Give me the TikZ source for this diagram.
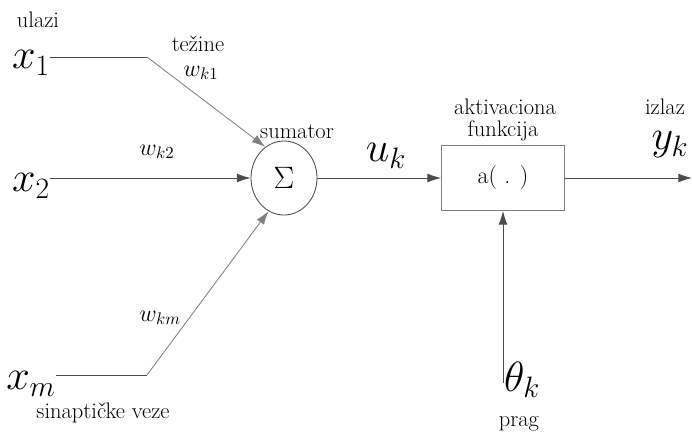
\RequirePackage{fix-cm}
\documentclass[tikz,border=0pt]{standalone}
\usepackage{fontspec}
\usetikzlibrary{arrows.meta,shapes.geometric}

\begin{document}
\begin{tikzpicture}[x=0.025cm, y=-0.025cm, >={Latex[length=3.4mm,width=2.2mm]},
    lab/.style={font=\fontsize{16}{18}\selectfont, inner sep=0pt},
    var/.style={font=\fontsize{30}{32}\selectfont, inner sep=0pt},
    wt/.style={font=\fontsize{17}{19}\selectfont, inner sep=0pt},
    conn/.style={draw=black!70, line width=0.6pt},
    slant/.style={draw=black!50, line width=0.6pt}]
    \useasboundingbox (0,0) rectangle (692,435);
    % ulazi
    \node[lab] (ul) at (38,20) {ulazi};
    \node[var] (x1) at (31,63) {$x_1$};
    \node[var] (x2) at (31,186) {$x_2$};
    \node[var] (xm) at (31,384) {$x_m$};
    \node[lab] (syn) at (103,413) {sinaptičke veze};
    % tezine
    \node[lab] (tez) at (198,44) {težine};
    \node[wt] (w1) at (201,73) {$w_{k1}$};
    \node[wt] (w2) at (157,152) {$w_{k2}$};
    \node[wt] (wm) at (160,318) {$w_{km}$};
    % sumator i aktivacija
    \node[ellipse, draw=black!70, line width=0.6pt, minimum width=1.65cm, minimum height=1.85cm,
        inner sep=0pt, font=\fontsize{22}{24}\selectfont] (sum) at (284,178) {$\Sigma$};
    \node[lab] (sumlab) at (297,132) {sumator};
    \node[draw=black!50, line width=0.6pt, minimum width=3.075cm, minimum height=1.625cm,
        inner sep=0pt, font=\fontsize{17}{19}\selectfont] (act) at (503,178) {a( . )};
    \node[lab] (akt) at (505,107) {aktivaciona};
    \node[lab] (fun) at (503,131) {funkcija};
    \node[var] (uk) at (386,156) {$u_k$};
    \node[lab] (izl) at (665,107) {izlaz};
    \node[var] (yk) at (670,145) {$y_k$};
    \node[var] (thk) at (522,380) {$\theta_k$};
    \node[lab] (prag) at (519,424) {prag};
    % veze
    \coordinate (k1) at (147,57);
    \coordinate (km) at (147,375);
    \coordinate (out) at (692,178);
    \coordinate (th) at (503,383);
    \draw[conn] (x1.east |- k1) -- (k1);
    \draw[slant,->] (k1) -- (sum.121);
    \draw[conn,->] (x2.east |- sum) -- (sum);
    \draw[conn] (xm.east |- km) -- (km);
    \draw[slant,->] (km) -- (sum.245);
    \draw[conn,->] (sum) -- (act);
    \draw[conn,->] (act) -- (out);
    \draw[conn,->] (th) -- (act);
\end{tikzpicture}
\end{document}
